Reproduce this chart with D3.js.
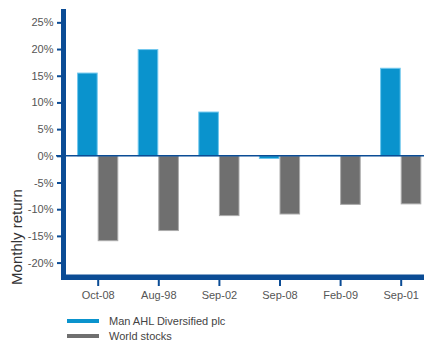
<!DOCTYPE html>
<html>
<head>
<meta charset="utf-8">
<script src="https://cdn.jsdelivr.net/npm/d3@7"></script>
<style>
  body { margin: 0; background: #fff; }
  text { font-family: "Liberation Sans", Arial, sans-serif; }
</style>
</head>
<body>
<div id="chart"></div>
<script>
// months shown on the x axis
let categories = ["Oct-08", "Aug-98", "Sep-02", "Sep-08", "Feb-09", "Sep-01"];
let series = ["Man AHL Diversified plc", "World stocks"];
// monthly return in %
let manAhl = [15.5, 19.9, 8.2, -0.5, 0.1, 16.4];
let worldStocks = [-15.9, -14.0, -11.2, -10.9, -9.1, -9.0];
let yTicks = [-20, -15, -10, -5, 0, 5, 10, 15, 20, 25];

let width = 424;
let height = 343;

let fills = ["#0a93cd", "#6f6f6f"];
let edges = ["#71c8ee", "#ababab"];
let axisColor = "#0b4c95";

let svg = d3.select("#chart")
    .append("svg")
    .attr("width", width)
    .attr("height", height);

let y = d3.scaleLinear().domain([-22.7, 27.5]).range([277, 9]);

let x0 = d3.scaleBand()
    .domain(categories)
    .range([57.7, 440.7])
    .paddingInner(0.32)
    .paddingOuter(0.32);

let x1 = d3.scaleBand()
    .domain(series)
    .range([0, x0.bandwidth()]);

let rows = categories.map(function(c, i) {
    return { cat: c, values: [manAhl[i], worldStocks[i]] };
});

// bars
let groups = svg.append("g")
    .selectAll("g")
    .data(rows)
    .enter()
    .append("g")
    .attr("transform", function(d) { return "translate(" + x0(d.cat) + ",0)"; });

groups.selectAll("rect")
    .data(function(d) { return d.values.map(function(v, j) { return { key: series[j], v: v, j: j }; }); })
    .enter()
    .append("rect")
    .attr("x", function(d) { return x1(d.key) + 0.5; })
    .attr("y", function(d) { return y(Math.max(0, d.v)); })
    .attr("width", x1.bandwidth() - 1)
    .attr("height", function(d) { return Math.abs(y(d.v) - y(0)); })
    .attr("fill", function(d) { return fills[d.j]; })
    .attr("stroke", function(d) { return edges[d.j]; })
    .attr("stroke-width", 1);

// zero line
svg.append("line")
    .attr("x1", 56).attr("x2", width)
    .attr("y1", y(0)).attr("y2", y(0))
    .attr("stroke", axisColor)
    .attr("stroke-width", 1.6);

// y axis
let yAxis = svg.append("g")
    .attr("transform", "translate(62,0)")
    .call(d3.axisLeft(y).tickValues(yTicks).tickFormat(function(d) { return d + "%"; }).tickSize(5).tickPadding(3.5));
yAxis.select(".domain").remove();
yAxis.selectAll("line").attr("stroke", axisColor).attr("stroke-width", 2);
yAxis.selectAll("text").attr("fill", "#555").style("font-size", "11px");

// x axis
let xAxis = svg.append("g")
    .attr("transform", "translate(0,280)")
    .call(d3.axisBottom(d3.scalePoint().domain(categories).range([x0(categories[0]) + x0.bandwidth() / 2, x0(categories[5]) + x0.bandwidth() / 2])).tickSize(6).tickPadding(5));
xAxis.select(".domain").remove();
xAxis.selectAll("line").attr("stroke", axisColor).attr("stroke-width", 2);
xAxis.selectAll("text").attr("fill", "#555").style("font-size", "11px");

// thick axis frame
svg.append("line")
    .attr("x1", 63.5).attr("x2", 63.5)
    .attr("y1", 9).attr("y2", 280)
    .attr("stroke", axisColor)
    .attr("stroke-width", 5);
svg.append("line")
    .attr("x1", 61).attr("x2", width)
    .attr("y1", 277.3).attr("y2", 277.3)
    .attr("stroke", axisColor)
    .attr("stroke-width", 5.5);

// y axis title
svg.append("text")
    .attr("transform", "translate(22,237) rotate(-90)")
    .attr("text-anchor", "middle")
    .attr("fill", "#333")
    .style("font-size", "15px")
    .text("Monthly return");

// legend
let legend = svg.append("g")
    .selectAll("g")
    .data(series)
    .enter()
    .append("g")
    .attr("transform", function(d, i) { return "translate(67," + (321 + i * 15) + ")"; });

legend.append("line")
    .attr("x1", 0).attr("x2", 32)
    .attr("stroke", function(d, i) { return fills[i]; })
    .attr("stroke-width", 4);

legend.append("text")
    .attr("x", 42)
    .attr("dy", "0.35em")
    .attr("fill", "#444")
    .style("font-size", "11px")
    .text(function(d) { return d; });
</script>
</body>
</html>
